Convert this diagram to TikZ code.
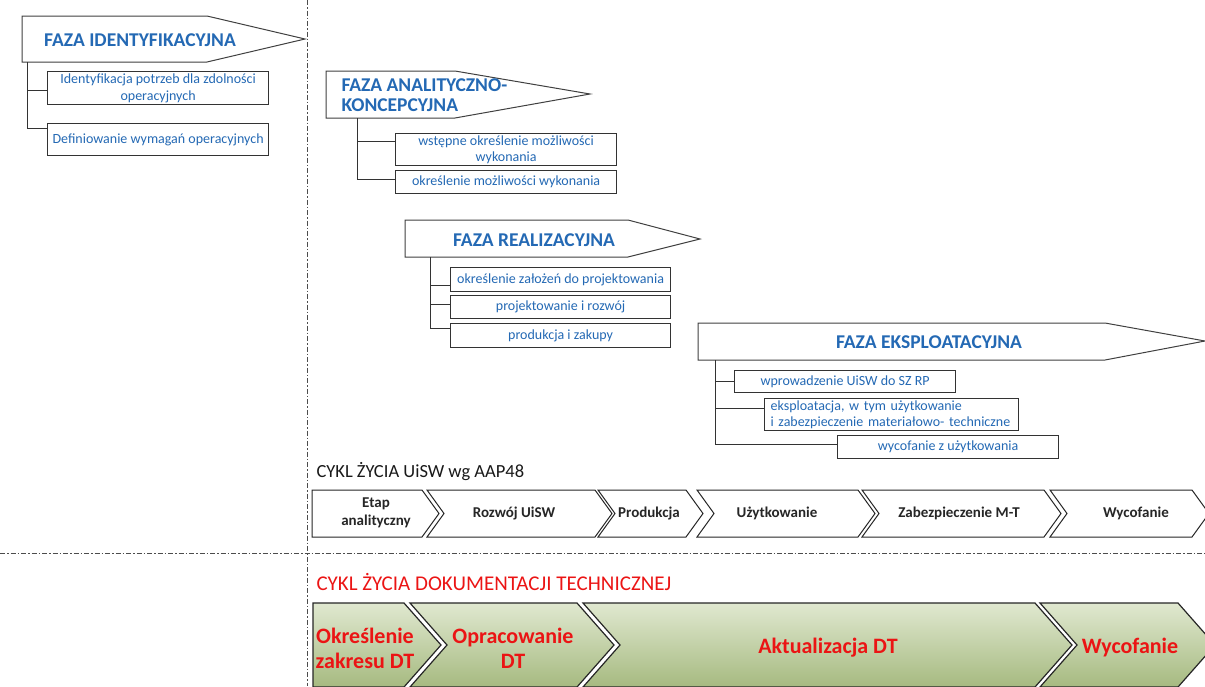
\documentclass[tikz,border=0pt]{standalone}
\usepackage{fontspec}
\setmainfont{Carlito}
\usepackage{tikz}
\definecolor{tblue}{RGB}{36,105,180}
\definecolor{dtgreen}{RGB}{166,186,128}
\definecolor{dtlight}{RGB}{224,232,208}
\definecolor{dtred}{RGB}{235,20,20}

\begin{document}
\begin{tikzpicture}[x=1pt, y=-1pt,
  os/.style={draw=black!70, line width=0.8pt, dash pattern=on 5pt off 2pt on 1.5pt off 2pt},
  faza/.style={draw=black!75, line width=1pt, fill=white},
  fazatxt/.style={text=tblue, font=\fontsize{19.5}{20}\selectfont\bfseries},
  krok/.style={draw=black!80, line width=1.2pt, fill=white, text=tblue,
    font=\fontsize{14}{16.5}\selectfont, align=center, inner sep=0.5pt, anchor=north west},
  galaz/.style={draw=black!80, line width=1pt},
  etap/.style={draw=black!85, line width=1pt, fill=white},
  etaptxt/.style={font=\fontsize{15}{18}\selectfont\bfseries, text=black!85, align=center},
  dt/.style={draw=black!85, line width=1.2pt, top color=dtlight, bottom color=dtgreen},
  dttxt/.style={font=\fontsize{22}{25}\selectfont\bfseries, text=dtred, align=center}]
  \useasboundingbox (0,0) rectangle (1205,686);
  \clip (0,0) rectangle (1205,686);
  % osie
  \draw[os] (307,0) -- (307,686);
  \draw[os] (0,553) -- (1205,553);

  % faza identyfikacyjna
  \draw[faza] (22,16) -- (207,16) -- (305,39) -- (207,62) -- (22,62) -- cycle;
  \node[fazatxt] (f1) at (140,40) {FAZA IDENTYFIKACYJNA};
  \coordinate (f1s) at (27,62);
  \node[krok, minimum width=221, minimum height=33] (k11) at (47,71) {Identyfikacja potrzeb dla zdolności\\operacyjnych};
  \node[krok, minimum width=221, minimum height=32] (k12) at (47,123) {Definiowanie wymagań operacyjnych};
  \draw[galaz] (f1s) |- ([yshift=-2.5pt]k11.west);
  \draw[galaz] (f1s) |- ([yshift=11pt]k12.west);

  % faza analityczno-koncepcyjna
  \draw[faza] (326,71) -- (455,71) -- (590,94) -- (455,118) -- (326,118) -- cycle;
  \node[fazatxt, align=left, anchor=west] (f2) at (338,95) {FAZA ANALITYCZNO-\\KONCEPCYJNA};
  \coordinate (f2s) at (357,118);
  \node[krok, minimum width=221, minimum height=32] (k21) at (395,133) {wstępne określenie możliwości\\wykonania};
  \node[krok, minimum width=221, minimum height=23] (k22) at (395,170) {określenie możliwości wykonania};
  \draw[galaz] (f2s) |- ([yshift=8pt]k21.west);
  \draw[galaz] (f2s) |- ([yshift=3pt]k22.west);

  % faza realizacyjna
  \draw[faza] (405,220) -- (628,220) -- (700,239) -- (628,257) -- (405,257) -- cycle;
  \node[fazatxt] (f3) at (534,240) {FAZA REALIZACYJNA};
  \coordinate (f3s) at (430,257);
  \node[krok, minimum width=220, minimum height=24] (k31) at (450,267) {określenie założeń do projektowania};
  \node[krok, minimum width=220, minimum height=23] (k32) at (450,295) {projektowanie i rozwój};
  \node[krok, minimum width=220, minimum height=24] (k33) at (450,323) {produkcja i zakupy};
  \draw[galaz] (f3s) |- ([yshift=-6pt]k31.west);
  \draw[galaz] (f3s) |- ([yshift=2.5pt]k32.west);
  \draw[galaz] (f3s) |- ([yshift=7pt]k33.west);

  % faza eksploatacyjna
  \draw[faza] (698,323) -- (1105,323) -- (1205,341) -- (1105,360) -- (698,360) -- cycle;
  \node[fazatxt] (f4) at (929,342) {FAZA EKSPLOATACYJNA};
  \coordinate (f4s) at (715,360);
  \node[krok, minimum width=221, minimum height=22] (k41) at (734,370) {wprowadzenie UiSW do SZ RP};
  \node[krok, minimum width=254, minimum height=32, align=left, text width=242] (k42) at (764,398)
    {eksploatacja, w tym użytkowanie\\i zabezpieczenie materiałowo- techniczne};
  \node[krok, minimum width=221, minimum height=23] (k43) at (837,435) {wycofanie z użytkowania};
  \draw[galaz] (f4s) |- (k41.west);
  \draw[galaz] (f4s) |- ([yshift=6pt]k42.west);
  \draw[galaz] (f4s) |- ([yshift=2.5pt]k43.west);

  % cykl zycia UiSW
  \node[anchor=west, font=\fontsize{18.5}{20}\selectfont, text=black!90] (c1) at (313,472) {CYKL ŻYCIA UiSW wg AAP48};
  \draw[etap] (312,490) -- (422,490) -- (439,513.5) -- (422,537) -- (312,537) -- cycle;
  \draw[etap] (427,490) -- (595,490) -- (612,513.5) -- (595,537) -- (427,537) -- (444,513.5) -- cycle;
  \draw[etap] (598,490) -- (686,490) -- (703,513.5) -- (686,537) -- (598,537) -- (615,513.5) -- cycle;
  \draw[etap] (697,490) -- (858,490) -- (875,513.5) -- (858,537) -- (697,537) -- (714,513.5) -- cycle;
  \draw[etap] (862,490) -- (1044,490) -- (1061,513.5) -- (1044,537) -- (862,537) -- (879,513.5) -- cycle;
  \draw[etap] (1050,490) -- (1192,490) -- (1209,513.5) -- (1192,537) -- (1050,537) -- (1067,513.5) -- cycle;
  \node[etaptxt] (e1) at (376,513) {Etap\\analityczny};
  \node[etaptxt] (e2) at (514,513) {Rozwój UiSW};
  \node[etaptxt] (e3) at (649,513) {Produkcja};
  \node[etaptxt] (e4) at (777,513) {Użytkowanie};
  \node[etaptxt] (e5) at (959,513) {Zabezpieczenie M-T};
  \node[etaptxt] (e6) at (1136,513) {Wycofanie};

  % cykl zycia DT
  \node[anchor=west, font=\fontsize{21}{24}\selectfont, text=dtred] (c2) at (313,582) {CYKL ŻYCIA DOKUMENTACJI TECHNICZNEJ};
  \draw[dt] (313,603) -- (404,603) -- (441,645) -- (404,687) -- (313,687) -- cycle;
  \draw[dt] (410,603) -- (577,603) -- (614,645) -- (577,687) -- (410,687) -- (447,645) -- cycle;
  \draw[dt] (583,603) -- (1035,603) -- (1072,645) -- (1035,687) -- (583,687) -- (620,645) -- cycle;
  \draw[dt] (1040,603) -- (1178,603) -- (1215,645) -- (1178,687) -- (1040,687) -- (1077,645) -- cycle;
  \node[dttxt] (d1) at (365,648) {Określenie\\zakresu DT};
  \node[dttxt] (d2) at (513,648) {Opracowanie\\DT};
  \node[dttxt] (d3) at (828,648) {Aktualizacja DT};
  \node[dttxt] (d4) at (1130,648) {Wycofanie};
\end{tikzpicture}
\end{document}
